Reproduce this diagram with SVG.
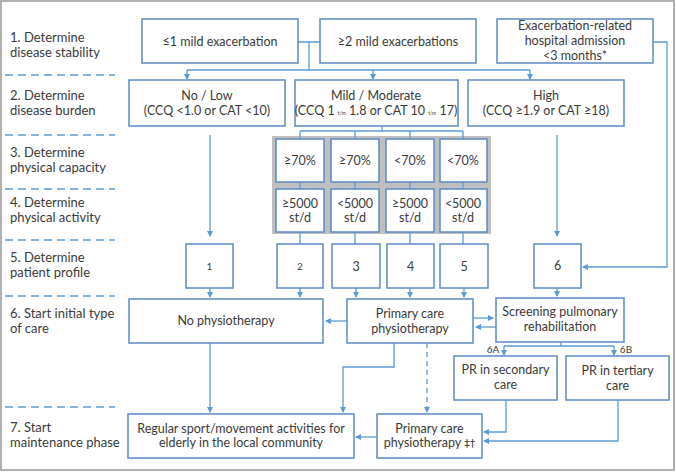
<svg xmlns="http://www.w3.org/2000/svg" width="676" height="472" viewBox="0 0 676 472">
<style>
text{font-family:Lato,"Liberation Sans",sans-serif;font-size:12.5px;fill:#3a3a3a;text-anchor:middle}
.lbl{text-anchor:start;font-size:13px}
.box{fill:#fff;stroke:#5b8bc4;stroke-width:1.5}
.ln{fill:none;stroke:#5b9bd5;stroke-width:1.3}
.arr{marker-end:url(#ah)}
.sep{stroke:#5b9bd5;stroke-width:1.5;stroke-dasharray:8 5}
.tiny{font-size:5px}
.sm{font-size:10px}
.sym{font-family:"DejaVu Sans",sans-serif;font-size:11px}
</style>
<defs>
<marker id="ah" markerWidth="6" markerHeight="6" refX="5" refY="3" orient="auto" markerUnits="userSpaceOnUse">
<path d="M0,0 L6,3 L0,6 z" fill="#5b9bd5"/>
</marker>
</defs>
<rect x="1" y="1" width="673" height="469" fill="#fff" stroke="#b0b0b0" stroke-width="2"/>
<g id="separators">
<line class="sep" x1="5" y1="75" x2="115" y2="75"/>
<line class="sep" x1="5" y1="135" x2="115" y2="135"/>
<line class="sep" x1="5" y1="189" x2="115" y2="189"/>
<line class="sep" x1="5" y1="240" x2="115" y2="240"/>
<line class="sep" x1="5" y1="296" x2="115" y2="296"/>
<line class="sep" x1="5" y1="407" x2="115" y2="407"/>
</g>
<g id="steps">
<text class="lbl" x="10" y="42">1. Determine</text><text class="lbl" x="10" y="57">disease stability</text>
<text class="lbl" x="10" y="100">2. Determine</text><text class="lbl" x="10" y="115">disease burden</text>
<text class="lbl" x="10" y="157">3. Determine</text><text class="lbl" x="10" y="172">physical capacity</text>
<text class="lbl" x="10" y="207">4. Determine</text><text class="lbl" x="10" y="222">physical activity</text>
<text class="lbl" x="10" y="262">5. Determine</text><text class="lbl" x="10" y="277">patient profile</text>
<text class="lbl" x="10" y="318">6. Start initial type</text><text class="lbl" x="10" y="333">of care</text>
<text class="lbl" x="10" y="432">7. Start</text><text class="lbl" x="10" y="447">maintenance phase</text>
</g>
<rect id="grid-bg" x="272" y="136" width="219" height="98" fill="#bfbfbf"/>
<g id="connectors">
<path class="ln" d="M298,42 H320 M309,42 V70 M187,70 H530"/>
<path class="ln arr" d="M187,70 V79"/>
<path class="ln arr" d="M373,70 V79"/>
<path class="ln arr" d="M530,70 V79"/>
<path class="ln arr" d="M653,42 H667 V267 H583"/>
<path class="ln arr" d="M210,135 V236"/>
<path class="ln arr" d="M557,135 V236"/>
<path class="ln" d="M382,126 V131 M300,131 H463 M300,131 V139 M355,131 V139 M410,131 V139 M463,131 V139"/>
<path class="ln" d="M300,182 V189 M355,182 V189 M410,182 V189 M463,182 V189"/>
<path class="ln" d="M300,232 V244 M355,232 V244 M410,232 V244 M463,232 V244"/>
<path class="ln arr" d="M210,288 V297"/>
<path class="ln arr" d="M300,288 V297"/>
<path class="ln arr" d="M356,288 V297"/>
<path class="ln arr" d="M410,288 V297"/>
<path class="ln arr" d="M464,288 V297"/>
<path class="ln arr" d="M557,288 V296"/>
<path class="ln arr" d="M347,321 H326"/>
<path class="ln arr" d="M473,318 H493"/>
<path class="ln arr" d="M496,327 H476"/>
<path class="ln" d="M561,342 V346 M504,346 H614"/>
<path class="ln arr" d="M504,346 V355"/>
<path class="ln arr" d="M614,346 V355"/>
<path class="ln arr" d="M506,400 V432 H484"/>
<path class="ln arr" d="M618,400 V441 H484"/>
<path class="ln arr" d="M394,343 V367 H343 V412"/>
<path class="ln arr" d="M427,343 V412" stroke-dasharray="5 4"/>
<path class="ln arr" d="M210,343 V412"/>
<path class="ln arr" d="M377,437 H356"/>
<text class="sm" x="493" y="353">6A</text>
<text class="sm" x="626" y="353">6B</text>
</g>
<g id="n-stab1"><rect class="box" x="142" y="19" width="156" height="44"/><text x="220" y="46">≤1 mild exacerbation</text></g>
<g id="n-stab2"><rect class="box" x="320" y="19" width="156" height="44"/><text x="398" y="46">≥2 mild exacerbations</text></g>
<g id="n-hosp"><rect class="box" x="497" y="19" width="156" height="44"/><text x="575" y="30">Exacerbation-related</text><text x="575" y="45">hospital admission</text><text x="575" y="60">&lt;3 months*</text></g>
<g id="n-low"><rect class="box" x="129" y="80" width="156" height="46"/><text x="207" y="100">No / Low</text><text x="207" y="115">(CCQ &lt;1.0 or CAT &lt;10)</text></g>
<g id="n-mild"><rect class="box" x="295" y="80" width="163" height="46"/><text x="376" y="100">Mild / Moderate</text><text x="376" y="115" font-size="12">(CCQ 1 <tspan class="tiny">t/m</tspan> 1.8 or CAT 10 <tspan class="tiny">t/m</tspan> 17)</text></g>
<g id="n-high"><rect class="box" x="468" y="80" width="156" height="46"/><text x="546" y="100">High</text><text x="546" y="115">(CCQ ≥1.9 or CAT ≥18)</text></g>
<g id="n-cap1"><rect class="box" x="276" y="139" width="48" height="43"/><text x="300" y="165">≥70%</text></g>
<g id="n-cap2"><rect class="box" x="331" y="139" width="48" height="43"/><text x="355" y="165">≥70%</text></g>
<g id="n-cap3"><rect class="box" x="386" y="139" width="48" height="43"/><text x="410" y="165">&lt;70%</text></g>
<g id="n-cap4"><rect class="box" x="440" y="139" width="47" height="43"/><text x="463" y="165">&lt;70%</text></g>
<g id="n-act1"><rect class="box" x="276" y="189" width="48" height="43"/><text x="300" y="208">≥5000</text><text x="300" y="222">st/d</text></g>
<g id="n-act2"><rect class="box" x="331" y="189" width="48" height="43"/><text x="355" y="208">&lt;5000</text><text x="355" y="222">st/d</text></g>
<g id="n-act3"><rect class="box" x="386" y="189" width="48" height="43"/><text x="410" y="208">≥5000</text><text x="410" y="222">st/d</text></g>
<g id="n-act4"><rect class="box" x="440" y="189" width="47" height="43"/><text x="463" y="208">&lt;5000</text><text x="463" y="222">st/d</text></g>
<g id="n-p1"><rect class="box" x="186" y="244" width="47" height="44"/><text class="sm" x="209.5" y="270">1</text></g>
<g id="n-p2"><rect class="box" x="277" y="244" width="46" height="44"/><text class="sm" x="300" y="270">2</text></g>
<g id="n-p3"><rect class="box" x="332" y="244" width="48" height="44"/><text x="356" y="271">3</text></g>
<g id="n-p4"><rect class="box" x="387" y="244" width="47" height="44"/><text x="410.5" y="271">4</text></g>
<g id="n-p5"><rect class="box" x="440" y="244" width="48" height="44"/><text x="464" y="271">5</text></g>
<g id="n-p6"><rect class="box" x="534" y="244" width="47" height="44"/><text x="557.5" y="270">6</text></g>
<g id="n-nophys"><rect class="box" x="129" y="299" width="194" height="44"/><text x="226" y="325">No physiotherapy</text></g>
<g id="n-primary"><rect class="box" x="347" y="299" width="126" height="44"/><text x="410" y="318">Primary care</text><text x="410" y="333">physiotherapy</text></g>
<g id="n-screen"><rect class="box" x="496" y="298" width="128" height="44"/><text x="560" y="316">Screening pulmonary</text><text x="560" y="331">rehabilitation</text></g>
<g id="n-prsec"><rect class="box" x="454" y="356" width="103" height="44"/><text x="505.5" y="374">PR in secondary</text><text x="505.5" y="389">care</text></g>
<g id="n-prter"><rect class="box" x="566" y="356" width="103" height="44"/><text x="617.5" y="375">PR in tertiary</text><text x="617.5" y="390">care</text></g>
<g id="n-sport"><rect class="box" x="128" y="414" width="226" height="44"/><text x="241" y="433">Regular sport/movement activities for</text><text x="241" y="447">elderly in the local community</text></g>
<g id="n-primary2"><rect class="box" x="377" y="414" width="105" height="44"/><text x="429.5" y="433">Primary care</text><text x="429.5" y="447">physiotherapy <tspan class="sym">‡†</tspan></text></g>
</svg>
